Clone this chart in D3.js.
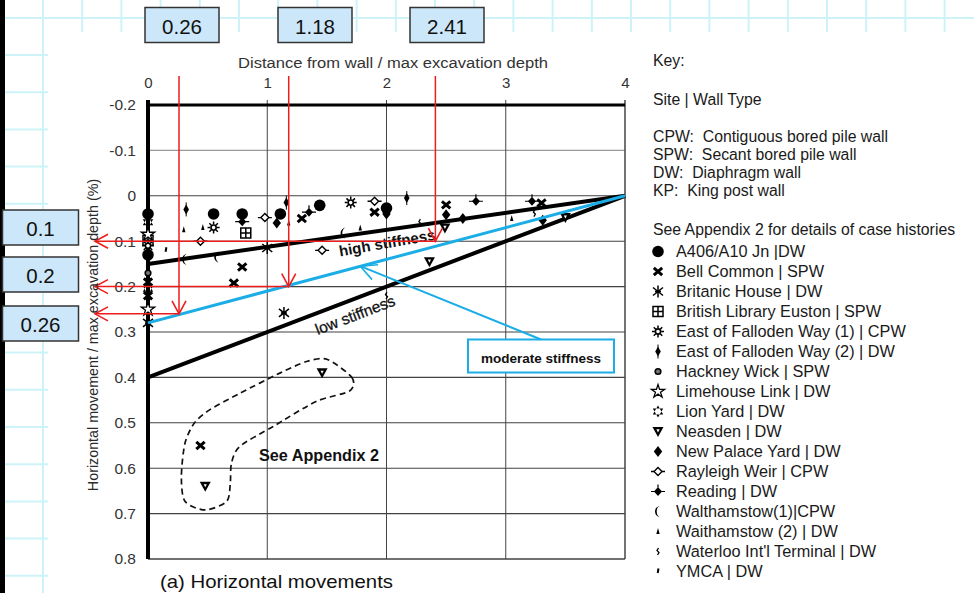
<!DOCTYPE html>
<html><head><meta charset="utf-8">
<script src="https://cdn.jsdelivr.net/npm/d3@7"></script>
<style>
body{margin:0;background:#fff;}
svg{display:block;}
text{font-family:"Liberation Sans",Arial,sans-serif;}
</style>
</head><body>
<svg id="c" width="974" height="593"></svg>
<script>
// ---------------- data ----------------
const xTicks = [0, 1, 2, 3, 4];
const xTickLabels = ["0", "1", "2", "3", "4"];
const yTicks = [-0.2, -0.1, 0, 0.1, 0.2, 0.3, 0.4, 0.5, 0.6, 0.7, 0.8];
const yTickLabels = ["-0.2", "-0.1", "0", "0.1", "0.2", "0.3", "0.4", "0.5", "0.6", "0.7", "0.8"];

const highStiffness = [[0, 0.15], [4, 0]];
const moderateStiffness = [[0, 0.28], [4, 0]];
const lowStiffness = [[0, 0.40], [4, 0]];

const readX = [0.26, 1.18, 2.41];
const readY = [0.26, 0.2, 0.1];
const readXLabels = ["0.26", "1.18", "2.41"];
const readYLabels = ["0.1", "0.2", "0.26"];
const moderateArrowTip = [1.78, 0.155];

const appendixZone = [[1.50,0.36],[1.71,0.40],[1.69,0.43],[1.41,0.453],[1.05,0.508],[0.77,0.552],
  [0.70,0.589],[0.69,0.633],[0.66,0.673],[0.48,0.692],[0.31,0.673],[0.28,0.618],[0.31,0.545],
  [0.39,0.50],[0.52,0.471],[0.77,0.435],[1.11,0.39],[1.33,0.365]];

const a406 = [[0,0.04],[0,0.13],[0.55,0.04],[0.79,0.04],[1.11,0.04],[1.44,0.021],[2.0,0.027]];
const bellCommon = [[0,0.22],[0,0.19],[0.72,0.192],[0.79,0.157],[1.29,0.05],[1.90,0.036],[2.50,0.02],[3.30,0.016],[0.44,0.55]];
const britanicHouse = [[0,0.28],[1.14,0.258],[1.0,0.115]];
const britishLibrary = [[0,0.098],[0.82,0.082]];
const eastFalloden1 = [[0,0.11],[0.55,0.07],[1.70,0.015]];
const eastFalloden2 = [[0.32,0.03],[1.16,0.015],[2.17,0.005]];
const hackneyWick = [[0,0.17]];
const limehouseLink = [[0,0.085],[0,0.25]];
const lionYard = [[0,0.058],[0,0.205]];
const neasden = [[2.49,0.071],[2.36,0.145],[3.50,0.048],[1.46,0.39],[0.48,0.64]];
const newPalaceYard = [[1.08,0.06],[2.0,0.04],[2.50,0.042],[2.64,0.05],[3.31,0.054]];
const rayleighWeir = [[0.44,0.10],[0.98,0.048],[1.46,0.12],[1.90,0.012]];
const reading = [[0.79,0.057],[1.35,0.036],[2.75,0.012],[3.22,0.012]];
const walthamstow1 = [[0.31,0.14],[0.58,0.135],[1.64,0.082]];
const walthamstow2 = [[0.30,0.075],[0.46,0.07],[1.18,0.06],[1.78,0.071],[3.05,0.05]];
const waterloo = [[2.28,0.059],[3.24,0.038],[2.0,0.22]];
const ymca = [[0.15,0.12]];

const siteNames = ["A406/A10 Jn |DW","Bell Common | SPW","Britanic House | DW","British Library Euston | SPW",
  "East of Falloden Way (1) | CPW","East of Falloden Way (2) | DW","Hackney Wick | SPW","Limehouse Link | DW",
  "Lion Yard | DW","Neasden | DW","New Palace Yard | DW","Rayleigh Weir | CPW","Reading | DW",
  "Walthamstow(1)|CPW","Waithamstow (2) | DW","Waterloo Int'l Terminal | DW","YMCA | DW"];
const siteSymbols = ["circle","x","asterisk","grid","sun","diamondStem","dot","star","hexstar",
  "triDown","diamond","diamondOpen","reading","crescent","tiny","waterloo","tick"];
const sitePoints = [a406,bellCommon,britanicHouse,britishLibrary,eastFalloden1,eastFalloden2,hackneyWick,
  limehouseLink,lionYard,neasden,newPalaceYard,rayleighWeir,reading,walthamstow1,walthamstow2,waterloo,ymca];

const keyLines = ["Key:", "Site | Wall Type", "CPW:  Contiguous bored pile wall", "SPW:  Secant bored pile wall",
  "DW:  Diaphragm wall", "KP:  King post wall", "See Appendix 2 for details of case histories"];

// ---------------- drawing ----------------
const svg = d3.select("#c");
const W = 974, H = 593;

// background sheet grid
const bg = svg.append("g").attr("stroke", "#cdf3f8").attr("stroke-width", 2);
for (let gx = 43; gx < W; gx += 39.2) bg.append("line").attr("x1", gx).attr("x2", gx).attr("y1", 0).attr("y2", gx < 48 ? H : 32);
bg.append("line").attr("x1", 0).attr("x2", W).attr("y1", 18).attr("y2", 18);
for (let gy = 55; gy < H; gy += 37.2) bg.append("line").attr("x1", 5).attr("x2", 48).attr("y1", gy).attr("y2", gy);
svg.append("rect").attr("x", 0).attr("y", 0).attr("width", 5).attr("height", H).attr("fill", "#000");

const x = d3.scaleLinear().domain([0, 4]).range([148, 625]);
const y = d3.scaleLinear().domain([-0.2, 0.8]).range([105, 559]);

// grid
const grid = svg.append("g");
grid.selectAll("line.h").data(yTicks.slice(1)).join("line")
  .attr("x1", x(0)).attr("x2", x(4)).attr("y1", d => y(d)).attr("y2", d => y(d))
  .attr("stroke", "#222").attr("stroke-width", d => d === 0.8 ? 1.6 : 1.1).attr("opacity", d => d === -0.1 ? 0.45 : 0.85);
grid.selectAll("line.v").data([1, 2, 3, 4]).join("line")
  .attr("x1", d => x(d)).attr("x2", d => x(d)).attr("y1", y(-0.2) - 5).attr("y2", y(0.8))
  .attr("stroke", "#444").attr("stroke-width", d => d === 4 ? 1.5 : 1);
// frame
svg.append("line").attr("x1", x(0)).attr("x2", x(4)).attr("y1", y(-0.2)).attr("y2", y(-0.2)).attr("stroke", "#000").attr("stroke-width", 3);
svg.append("line").attr("x1", x(0)).attr("x2", x(0)).attr("y1", y(-0.2) - 5).attr("y2", y(0.8)).attr("stroke", "#000").attr("stroke-width", 4);

// axes
const xAxis = svg.append("g").attr("transform", `translate(0,${y(-0.2)})`)
  .call(d3.axisTop(x).tickValues(xTicks).tickFormat((d, i) => xTickLabels[i]).tickSize(0).tickPadding(17));
xAxis.select(".domain").remove();
xAxis.selectAll("text").attr("font-size", 15).attr("fill", "#333").attr("font-family", "Liberation Sans, Arial, sans-serif");
const yAxis = svg.append("g").attr("transform", `translate(${x(0)},0)`)
  .call(d3.axisLeft(y).tickValues(yTicks).tickFormat((d, i) => yTickLabels[i]).tickSize(0).tickPadding(12));
yAxis.select(".domain").remove();
yAxis.selectAll("text").attr("font-size", 15.5).attr("fill", "#333").attr("font-family", "Liberation Sans, Arial, sans-serif");

svg.append("text").attr("x", 393).attr("y", 67.5).attr("text-anchor", "middle").attr("font-size", 14)
  .attr("fill", "#333").attr("textLength", 310).attr("lengthAdjust", "spacingAndGlyphs")
  .text("Distance from wall / max excavation depth");
svg.append("text").attr("x", 160).attr("y", 588).attr("font-size", 18.5).attr("fill", "#111")
  .attr("textLength", 233).attr("lengthAdjust", "spacingAndGlyphs").text("(a) Horizontal movements");

// stiffness lines
const line = d3.line().x(d => x(d[0])).y(d => y(d[1]));
svg.append("path").attr("d", line(highStiffness)).attr("stroke", "#000").attr("stroke-width", 4).attr("fill", "none");
svg.append("path").attr("d", line(lowStiffness)).attr("stroke", "#000").attr("stroke-width", 4).attr("fill", "none");

// appendix zone
svg.append("path").attr("d", d3.line().x(d => x(d[0])).y(d => y(d[1])).curve(d3.curveCardinalClosed.tension(0.2))(appendixZone))
  .attr("fill", "none").attr("stroke", "#111").attr("stroke-width", 1.7).attr("stroke-dasharray", "6,4");

// markers
function drawSym(g, type) {
  const P = (d, o) => g.append("path").attr("d", d).attr("fill", o.fill || "none").attr("stroke", o.stroke || "none")
    .attr("stroke-width", o.sw || 0).attr("fill-rule", "evenodd");
  switch (type) {
    case "circle": g.append("circle").attr("r", 5.8).attr("fill", "#000"); break;
    case "x": P("M-4.2,-3.6L4.2,3.6M-4.2,3.6L4.2,-3.6", {stroke: "#000", sw: 3}); break;
    case "asterisk": P("M0,-6V6M-5,-4L5,4M-5,4L5,-4M-3,0H3", {stroke: "#000", sw: 1.5}); break;
    case "grid": P("M-5,-5H5V5H-5ZM0,-5V5M-5,0H5", {stroke: "#000", sw: 1.5, fill: "#fff"}); break;
    case "sun": {
      let r = "";
      for (let k = 0; k < 8; k++) { const a = k * Math.PI / 4; r += `M${3.2*Math.cos(a)},${3.2*Math.sin(a)}L${6*Math.cos(a)},${6*Math.sin(a)}`; }
      P(r, {stroke: "#000", sw: 1.5});
      g.append("circle").attr("r", 2.6).attr("fill", "#fff").attr("stroke", "#000").attr("stroke-width", 1.6);
      break; }
    case "diamondStem": P("M0,-5L2.8,0L0,5L-2.8,0Z", {fill: "#000"}); P("M0,-7V7", {stroke: "#000", sw: 1}); break;
    case "dot": g.append("circle").attr("r", 2.8).attr("fill", "#777").attr("stroke", "#000").attr("stroke-width", 1.6); break;
    case "star": P(d3.symbol(d3.symbolStar, 55)(), {stroke: "#000", sw: 1.3, fill: "#fff"}); break;
    case "hexstar": P("M0,-6L5.2,3L-5.2,3ZM0,6L5.2,-3L-5.2,-3Z", {fill: "#000"}); break;
    case "triDown": P("M-5.5,-4.5H5.5L0,5.5Z", {fill: "#000"}); P("M-1.6,-2.2H1.6L0,1Z", {fill: "#fff"}); break;
    case "diamond": P("M0,-5.5L4.2,0L0,5.5L-4.2,0Z", {fill: "#000"}); break;
    case "diamondOpen": P("M0,-4L4,0L0,4L-4,0Z", {stroke: "#000", sw: 1.4, fill: "#fff"}); P("M-7,0H-4M4,0H7", {stroke: "#000", sw: 1.3}); break;
    case "reading": P("M0,-4.5L4,0L0,4.5L-4,0Z", {fill: "#000"}); P("M-7,0H7M0,-7V-4", {stroke: "#000", sw: 1.2}); break;
    case "crescent": P("M2.5,-5.5A5.5,5.5 0 0,0 2.5,5.5A3.8,5.5 0 0,1 2.5,-5.5Z", {fill: "#000"}); break;
    case "tiny": P("M0,-3.5L1.7,2.5L-1.7,2.5Z", {fill: "#000"}); break;
    case "waterloo": P("M0.5,-3.5L-1,-1L1,1L-0.5,3.5", {stroke: "#000", sw: 1.3}); break;
    case "tick": P("M0.5,-3L-0.3,1.5", {stroke: "#000", sw: 2}); break;
  }
}
const pts = svg.append("g");
sitePoints.forEach((arr, si) => {
  pts.selectAll(null).data(arr).join("g")
    .attr("transform", d => `translate(${x(d[0])},${y(d[1])})`)
    .each(function () { drawSym(d3.select(this), siteSymbols[si]); });
});

// moderate stiffness line (blue)
const blue = "#1badE6";
svg.append("path").attr("d", line(moderateStiffness)).attr("stroke", blue).attr("stroke-width", 3).attr("fill", "none");

// stiffness labels
svg.append("text").attr("transform", `translate(388,248) rotate(-10)`).attr("text-anchor", "middle")
  .attr("font-size", 15).attr("font-weight", "bold").attr("fill", "#111").text("high stiffness");
svg.append("text").attr("transform", `translate(357,320) rotate(-21)`).attr("text-anchor", "middle")
  .attr("font-size", 15.5).attr("fill", "#111").attr("stroke", "#111").attr("stroke-width", 0.3).text("low stiffness");
svg.append("text").attr("x", 259).attr("y", 461).attr("font-size", 16).attr("font-weight", "bold").attr("fill", "#111")
  .attr("textLength", 120).attr("lengthAdjust", "spacingAndGlyphs").text("See Appendix 2");

// arrow markers
const defs = svg.append("defs");
function arrowMarker(id, color, len, half) {
  defs.append("marker").attr("id", id).attr("viewBox", `${-len - 2} ${-half - 2} ${len + 4} ${2 * half + 4}`)
    .attr("refX", 0).attr("refY", 0).attr("markerWidth", len + 4).attr("markerHeight", 2 * half + 4)
    .attr("markerUnits", "userSpaceOnUse").attr("orient", "auto")
    .append("path").attr("d", `M${-len},${-half}L0,0L${-len},${half}`).attr("fill", "none")
    .attr("stroke", color).attr("stroke-width", 1.6);
}
arrowMarker("redArrow", "#ee1c1c", 13, 7);
arrowMarker("blueArrow", blue, 16, 8);

// red reading arrows
const red = svg.append("g").attr("stroke", "#ee1c1c").attr("stroke-width", 1.5).attr("fill", "none");
red.selectAll("line.v").data(readX).join("line")
  .attr("x1", d => x(d)).attr("x2", d => x(d)).attr("y1", 76).attr("y2", (d, i) => y(readY[i]))
  .attr("marker-end", "url(#redArrow)");
red.selectAll("line.h").data(readY).join("line")
  .attr("x1", (d, i) => x(readX[i])).attr("x2", 95).attr("y1", d => y(d)).attr("y2", d => y(d))
  .attr("marker-end", "url(#redArrow)");

// y axis title (drawn over the arrows, dark grey)
svg.append("text").attr("transform", "translate(98,335) rotate(-90)").attr("text-anchor", "middle")
  .attr("font-size", 14.3).attr("fill", "#2a2a2a").style("fill", "#2a2a2a").text("Horizontal movement / max excavation depth (%)");

// blue pointer + box
const boxX = 468, boxY = 339.5, boxW = 146, boxH = 33;
svg.append("line").attr("x1", 541).attr("y1", boxY).attr("x2", x(moderateArrowTip[0])).attr("y2", y(moderateArrowTip[1]))
  .attr("stroke", blue).attr("stroke-width", 2).attr("marker-end", "url(#blueArrow)");
svg.append("rect").attr("x", boxX).attr("y", boxY).attr("width", boxW).attr("height", boxH)
  .attr("fill", "#fff").attr("stroke", blue).attr("stroke-width", 2);
svg.append("text").attr("x", boxX + boxW / 2).attr("y", boxY + 23).attr("text-anchor", "middle")
  .attr("font-family", "Lato, 'Liberation Sans', sans-serif").attr("font-weight", "bold").attr("font-size", 13.5)
  .attr("fill", "#111").text("moderate stiffness");

// value boxes
const topBoxesX = [145, 278, 410];
const leftBoxesY = [210, 257, 306];
const boxFill = "#cde7fa";
topBoxesX.forEach((bx, i) => {
  svg.append("rect").attr("x", bx).attr("y", 7.5).attr("width", 74).attr("height", 35).attr("fill", boxFill).attr("stroke", "#333").attr("stroke-width", 1.5);
  svg.append("text").attr("x", bx + 37).attr("y", 33.5).attr("text-anchor", "middle").attr("font-size", 20.5)
    .attr("font-family", "Lato, 'Liberation Sans', sans-serif").attr("fill", "#111").text(readXLabels[i]);
});
leftBoxesY.forEach((by, i) => {
  svg.append("rect").attr("x", 2.5).attr("y", by).attr("width", 76).attr("height", 35).attr("fill", boxFill).attr("stroke", "#333").attr("stroke-width", 1.5);
  svg.append("text").attr("x", 40.5).attr("y", by + 26).attr("text-anchor", "middle").attr("font-size", 20.5)
    .attr("font-family", "Lato, 'Liberation Sans', sans-serif").attr("fill", "#111").text(readYLabels[i]);
});

// key
const keyY = [66, 105, 141.5, 159.5, 177.5, 195.5, 235];
svg.selectAll("text.key").data(keyLines).join("text").attr("class", "key")
  .attr("x", 653).attr("y", (d, i) => keyY[i]).attr("font-size", 15.8).attr("fill", "#1a1a1a")
  .attr("xml:space", "preserve").style("white-space", "pre").text(d => d);
const leg = svg.append("g");
siteNames.forEach((name, i) => {
  const yy = 257 + 20 * i;
  const g = leg.append("g").attr("transform", `translate(658,${yy - 5.5})`);
  drawSym(g, siteSymbols[i]);
  leg.append("text").attr("x", 676).attr("y", yy).attr("font-size", 16.3).attr("fill", "#1a1a1a").text(name);
});
</script>
</body></html>
